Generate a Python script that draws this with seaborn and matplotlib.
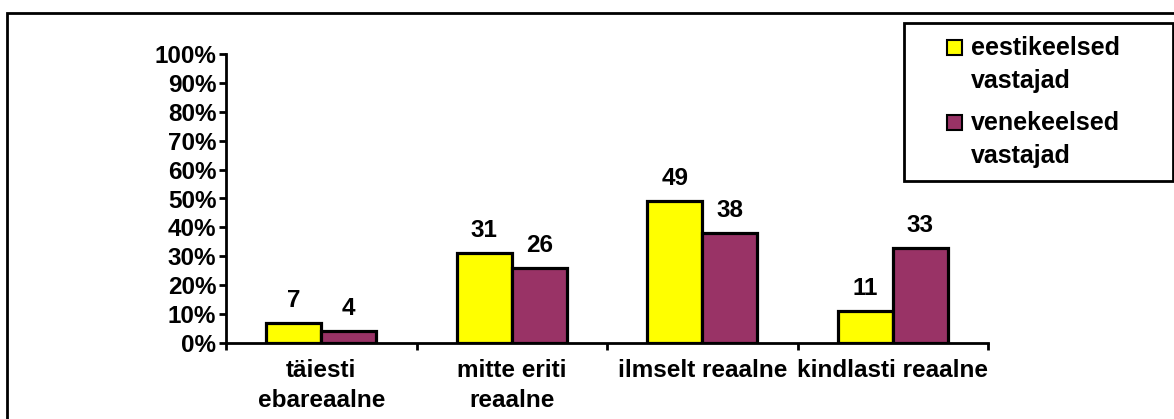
import matplotlib
matplotlib.use("Agg")
import matplotlib.pyplot as plt
from matplotlib.patches import Rectangle
import seaborn as sns
import pandas as pd

categories = ["täiesti\nebareaalne", "mitte eriti\nreaalne", "ilmselt reaalne", "kindlasti reaalne"]
groups = ["eestikeelsed\nvastajad", "venekeelsed\nvastajad"]
eesti = [7, 31, 49, 11]
vene = [4, 26, 38, 33]
yticks = [0, 10, 20, 30, 40, 50, 60, 70, 80, 90, 100]
colors = ["#FFFF00", "#993366"]

df = pd.DataFrame({
    "kategooria": categories * 2,
    "grupp": [groups[0]] * len(categories) + [groups[1]] * len(categories),
    "protsent": eesti + vene,
})

sns.set_theme(style="white")
plt.rcParams["font.family"] = ["Liberation Sans", "DejaVu Sans"]
plt.rcParams["font.weight"] = "bold"
plt.rcParams["text.color"] = "black"
plt.rcParams["xtick.color"] = "black"
plt.rcParams["ytick.color"] = "black"

FS = 17.5
W, H = 1174, 419
fig = plt.figure(figsize=(W / 100, H / 100), dpi=100)
ax = fig.add_axes([226 / W, 1 - 343 / H, (988 - 226) / W, (343 - 54) / H])

sns.barplot(data=df, x="kategooria", y="protsent", hue="grupp", order=categories,
            hue_order=groups, palette=colors, width=0.58, edgecolor="black",
            linewidth=2.3, saturation=1, ax=ax, legend=False)

for cont in ax.containers:
    ax.bar_label(cont, labels=[f"{v:.0f}" for v in cont.datavalues], padding=8,
                 fontsize=FS, fontweight="bold", color="black")

ax.set_ylim(0, 100)
ax.set_xlim(-0.5, len(categories) - 0.5)
ax.set_yticks(yticks)
ax.set_yticklabels([f"{t}%" for t in yticks], fontsize=FS, fontweight="bold", color="black")
ax.set_xticks([])
ax.set_xticks([i - 0.5 for i in range(len(categories) + 1)], minor=True)
ax.tick_params(axis="x", which="minor", length=5, width=2, direction="out", color="black", bottom=True)
ax.tick_params(axis="y", length=5, width=2, direction="out", color="black", left=True, pad=2)
for i, c in enumerate(categories):
    ax.text(i, -0.055, c, transform=ax.get_xaxis_transform(), ha="center", va="top",
            fontsize=FS, fontweight="bold", linespacing=1.4, color="black")
ax.set_xlabel("")
ax.set_ylabel("")
for s in ["top", "right"]:
    ax.spines[s].set_visible(False)
for s in ["left", "bottom"]:
    ax.spines[s].set_linewidth(2)
    ax.spines[s].set_color("black")
ax.set_facecolor("white")

# outer chart frame
fig.patches.append(Rectangle((7 / W, -0.05), 1.2, 1 - 13 / H + 0.05, transform=fig.transFigure,
                             fill=False, edgecolor="black", linewidth=2))

# legend box
lx0, lx1, ly0, ly1 = 904, 1173, 23, 181
fig.patches.append(Rectangle((lx0 / W, 1 - ly1 / H), (lx1 - lx0) / W, (ly1 - ly0) / H,
                             transform=fig.transFigure, facecolor="white",
                             edgecolor="black", linewidth=2))
for k, (g, col) in enumerate(zip(groups, colors)):
    base = 55 + k * 75
    fig.patches.append(Rectangle((947 / W, 1 - (base) / H), 15 / W, 15 / H,
                                 transform=fig.transFigure, facecolor=col,
                                 edgecolor="black", linewidth=1.5))
    for j, line in enumerate(g.split("\n")):
        fig.text(971 / W, 1 - (base + 33 * j) / H, line, ha="left", va="baseline",
                 fontsize=18, fontweight="bold", color="black")

fig.savefig("out.png", dpi=100, facecolor="white")
